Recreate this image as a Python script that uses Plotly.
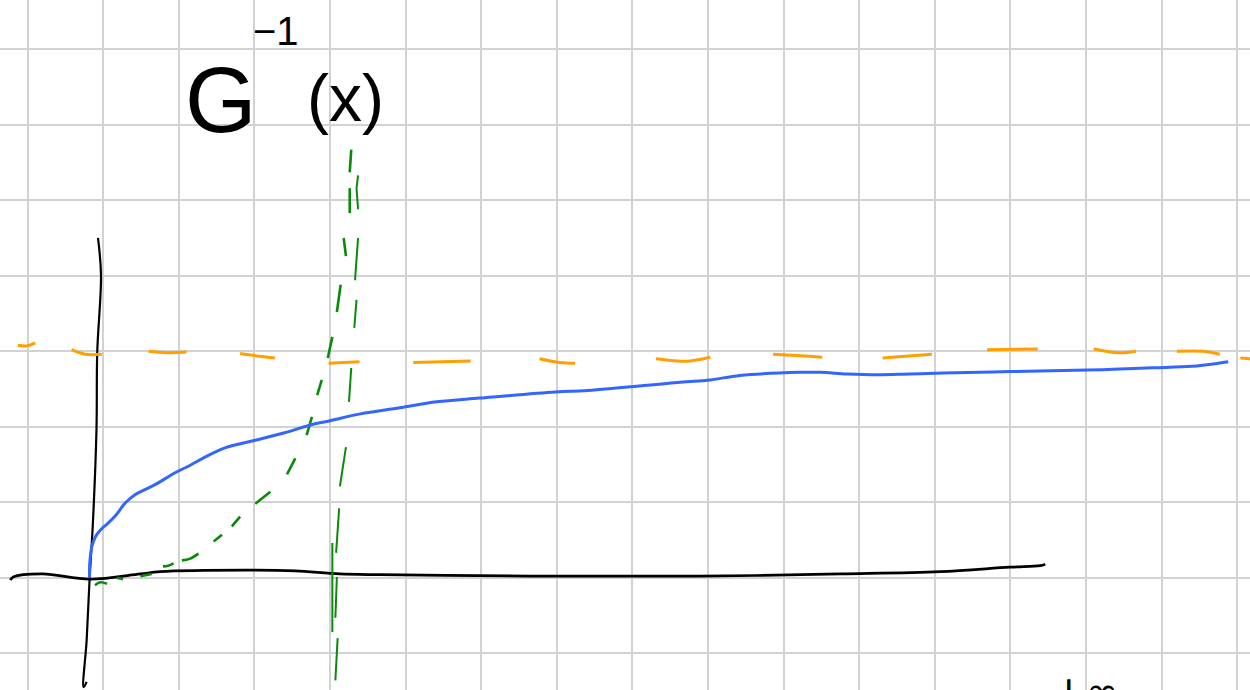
import plotly.graph_objects as go

# ---- data, in grid units (one grid square = 1) ----
# black horizontal axis (hand drawn)
axis_x_x = [-0.23, -0.19, 0.20, 0.82, 1.49, 1.75, 3.01, 3.54, 4.13, 4.66, 5.52, 7.17, 8.89, 10.75, 12.07, 12.99, 13.39, 13.46]
axis_x_y = [-0.03, 0.01, 0.05, -0.02, 0.05, 0.08, 0.10, 0.09, 0.05, 0.04, 0.03, 0.02, 0.02, 0.05, 0.08, 0.14, 0.16, 0.18]

# black vertical axis (hand drawn)
axis_y_x = [0.93, 0.97, 0.92, 0.91, 0.86, 0.82, 0.78, 0.74, 0.78]
axis_y_y = [4.50, 4.01, 2.98, 1.96, 0.67, 0.00, -0.83, -1.45, -1.38]

# blue curve G(x)
blue_x = [0.82, 0.82, 0.85, 0.90, 0.96, 1.06, 1.16, 1.29, 1.42, 1.68, 1.95, 2.15, 2.35, 2.61, 3.01, 3.40,
          3.73, 4.00, 4.40, 4.92, 5.41, 5.98, 6.98, 7.41, 8.63, 9.03, 9.42, 10.22, 10.48, 10.84, 11.23,
          11.67, 12.11, 12.99, 14.01, 14.36, 14.87, 15.40, 15.75, 15.88]
blue_y = [0.00, 0.17, 0.42, 0.55, 0.63, 0.72, 0.82, 0.99, 1.10, 1.23, 1.39, 1.49, 1.60, 1.72, 1.82, 1.92,
          2.02, 2.08, 2.17, 2.25, 2.33, 2.38, 2.46, 2.48, 2.59, 2.62, 2.68, 2.72, 2.72, 2.70, 2.69,
          2.70, 2.71, 2.73, 2.75, 2.76, 2.78, 2.80, 2.84, 2.86]

# orange dashed asymptote (hand drawn dashes, None = gap)
orange_x = [-0.13, -0.01, 0.10, None, 0.58, 0.76, 0.98, None, 1.60, 1.84, 2.10, None, 2.81, 3.10, 3.27, None,
            3.98, 4.39, None, 5.10, 5.86, None, 6.77, 7.04, 7.24, None, 8.31, 8.59, 8.76, 9.03, None,
            9.86, 10.22, 10.51, None, 11.31, 11.96, None, 12.69, 13.36, None, 14.10, 14.43, 14.66, None,
            15.20, 15.55, 15.77, None, 16.04, 16.17]
orange_y = [3.08, 3.07, 3.11, None, 3.02, 2.96, 2.96, None, 3.00, 2.98, 2.99, None, 2.97, 2.93, 2.91, None,
            2.84, 2.86, None, 2.85, 2.87, None, 2.90, 2.85, 2.84, None, 2.90, 2.87, 2.87, 2.92, None,
            2.96, 2.94, 2.92, None, 2.91, 2.96, None, 3.02, 3.03, None, 3.03, 2.98, 3.00, None,
            3.00, 3.00, 2.96, None, 2.91, 2.90]

# green dashed curve G^-1(x)
green_curve_x = [0.89, 0.96, 1.05, None, 1.18, 1.26, None, 1.49, 1.64, None, 1.79, 1.86, 1.93, None,
                 2.04, 2.14, 2.26, None, 2.46, 2.57, None, 2.70, 2.81, None, 3.01, 3.21, None, 3.43, 3.54, None,
                 3.69, 3.76, None, 3.83, 3.89, None, 3.97, 4.03, None, 4.09, 4.14, None, 4.21, 4.18, None,
                 4.26, 4.26, None, 4.26, 4.28]
green_curve_y = [-0.10, -0.06, -0.08, None, 0.00, -0.02, None, 0.02, 0.05, None, 0.15, 0.16, 0.19, None,
                 0.23, 0.25, 0.32, None, 0.48, 0.57, None, 0.68, 0.81, None, 0.98, 1.14, None, 1.37, 1.58, None,
                 1.89, 2.13, None, 2.42, 2.62, None, 2.91, 3.19, None, 3.52, 3.88, None, 4.26, 4.50, None,
                 4.83, 5.16, None, 5.37, 5.67]

# green dashed vertical line
green_vert_x = [4.37, 4.35, 4.37, None, 4.37, 4.33, None, 4.35, 4.32, None, 4.28, 4.25, None, 4.21, 4.13, None,
                4.12, 4.08, None, 4.03, 4.03, None, 4.09, 4.07, None, 4.10, 4.07]
green_vert_y = [5.33, 5.16, 4.88, None, 4.50, 3.94, None, 3.68, 3.31, None, 2.78, 2.33, None, 1.73, 1.21, None,
                0.92, 0.33, None, 0.46, -0.72, None, 0.01, -0.53, None, -0.80, -1.36]

fig = go.Figure()

fig.add_trace(go.Scatter(x=axis_x_x, y=axis_x_y, mode="lines", line=dict(color="black", width=2.7, shape="spline"),
                         hoverinfo="skip", showlegend=False))
fig.add_trace(go.Scatter(x=axis_y_x, y=axis_y_y, mode="lines", line=dict(color="black", width=2.2, shape="spline"),
                         hoverinfo="skip", showlegend=False))
fig.add_trace(go.Scatter(x=orange_x, y=orange_y, mode="lines", line=dict(color="#FFA000", width=3, shape="spline"),
                         connectgaps=False, hoverinfo="skip", showlegend=False))
fig.add_trace(go.Scatter(x=green_vert_x, y=green_vert_y, mode="lines", line=dict(color="#0A8A0A", width=2),
                         connectgaps=False, hoverinfo="skip", showlegend=False))
fig.add_trace(go.Scatter(x=green_curve_x, y=green_curve_y, mode="lines", line=dict(color="#0A8A0A", width=2.6, shape="spline"),
                         connectgaps=False, hoverinfo="skip", showlegend=False))
fig.add_trace(go.Scatter(x=blue_x, y=blue_y, mode="lines", line=dict(color="#3366FF", width=3, shape="spline"),
                         hoverinfo="skip", showlegend=False))

# hand-written label
fig.add_annotation(x=2.56, y=6.33, text="G", showarrow=False, font=dict(family="Liberation Sans", size=92, color="black"))
fig.add_annotation(x=3.29, y=7.24, text="−1", showarrow=False, font=dict(family="Liberation Sans", size=40, color="black"))
fig.add_annotation(x=4.20, y=6.36, text="(x)", showarrow=False, font=dict(family="Liberation Sans", size=66, color="black"))
# symbol cut off at the bottom edge of the page (as in the reference)
fig.add_annotation(x=13.99, xref="x", y=-0.001, yref="paper", yanchor="middle", text="+∞", showarrow=False,
                   font=dict(family="DejaVu Sans", size=40, color="black"))

axis_common = dict(showgrid=True, gridcolor="#d2d2d2", gridwidth=2, dtick=1, tick0=0,
                   showticklabels=False, ticks="", zeroline=False, showline=False, fixedrange=True)
fig.update_xaxes(range=[-0.366, 16.168], **axis_common)
fig.update_yaxes(range=[-1.487, 7.652], **axis_common)

fig.update_layout(width=1250, height=690, margin=dict(l=0, r=0, t=0, b=0),
                  plot_bgcolor="white", paper_bgcolor="white")

fig.write_html("out.html", post_script="document.body.style.margin='0';", config={"displayModeBar": False})
